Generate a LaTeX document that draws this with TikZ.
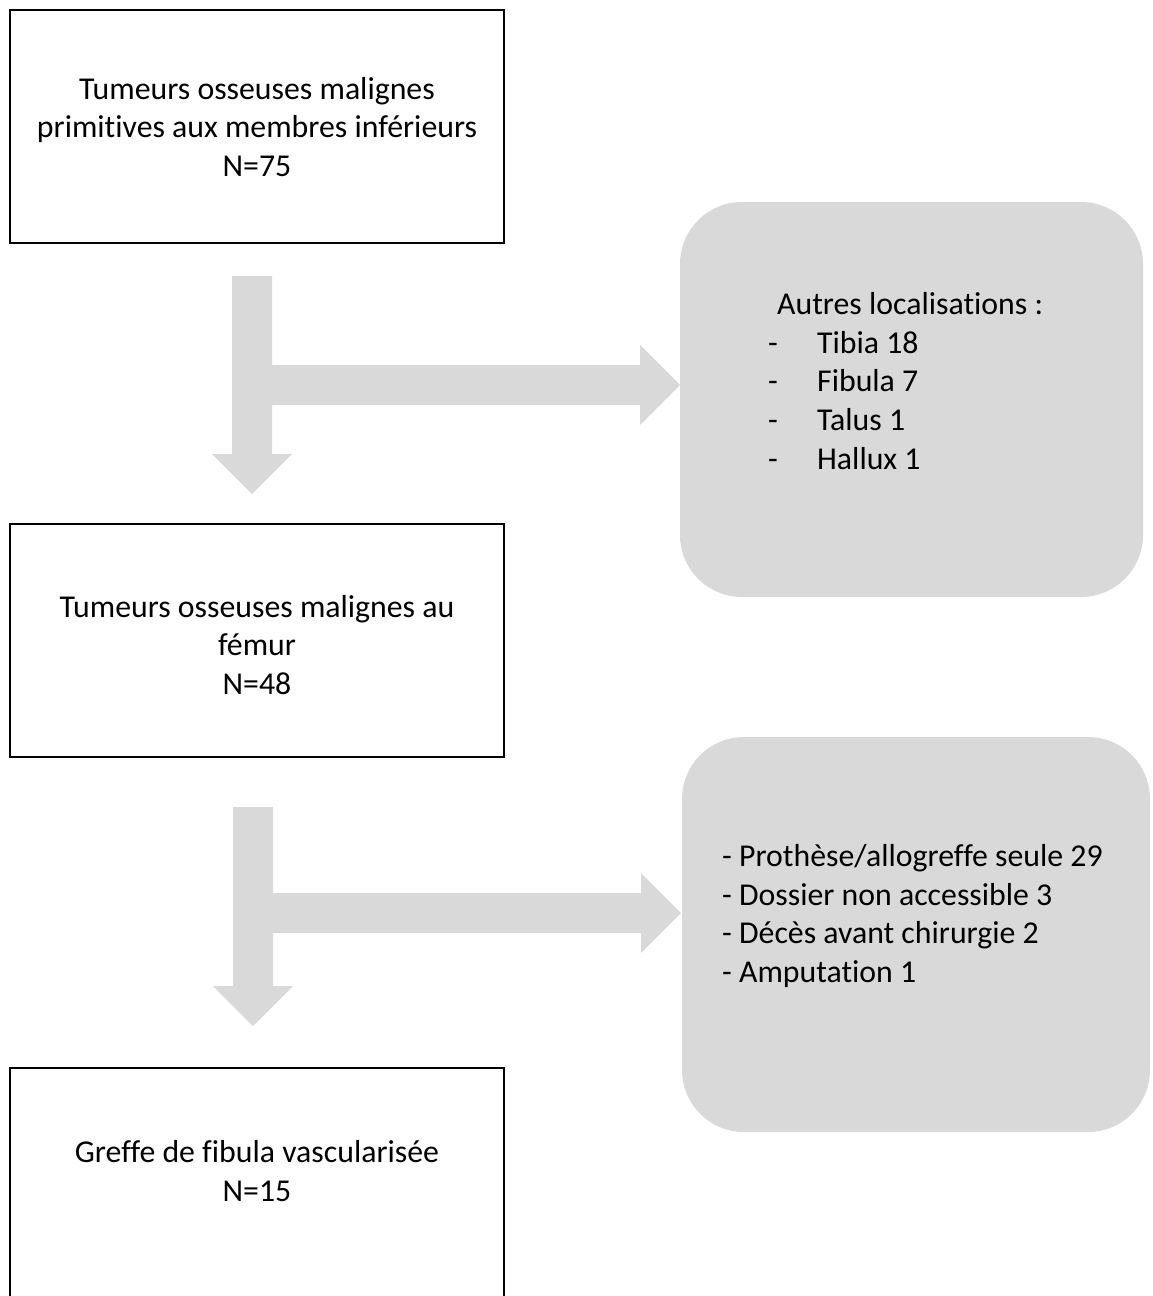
\documentclass[tikz,border=0pt]{standalone}
\usepackage{fontspec}
\setmainfont[Ligatures=NoCommon]{Carlito}
\definecolor{boxgray}{HTML}{D9D9D9}
\tikzset{
  whitebox/.style={draw=black, line width=1.6pt, fill=white, rectangle, inner sep=0pt},
  graybox/.style={fill=boxgray, draw=none, rectangle, rounded corners=62pt, inner sep=0pt},
  txt/.style={font=\fontsize{31.8}{38.8}\selectfont, align=center, inner sep=0pt, text=black},
  ltxt/.style={font=\fontsize{31.8}{38.8}\selectfont, align=left, inner sep=0pt, text=black},
  blockarrow/.style={fill=boxgray, draw=none}
}
\begin{document}
\begin{tikzpicture}[x=1pt,y=-1pt]
\useasboundingbox (0,0) rectangle (1153,1296);
\clip (0,0) rectangle (1153,1296);
% boxes
\node[whitebox, minimum width=494pt, minimum height=233pt] (b1) at (257,126.5) {};
\node[whitebox, minimum width=494pt, minimum height=233pt] (b2) at (257,640.5) {};
\node[whitebox, minimum width=494pt, minimum height=240pt] (b3) at (257,1188) {};
\node[graybox, minimum width=463pt, minimum height=395pt] (g1) at (911.5,399.5) {};
\node[graybox, minimum width=468pt, minimum height=395pt] (g2) at (916,934.5) {};
% texts
\node[txt] (t1) at (257,127) {Tumeurs osseuses malignes\\primitives aux membres inférieurs\\N=75};
\node[txt] (t2) at (257,645) {Tumeurs osseuses malignes au\\fémur\\N=48};
\node[txt] (t3) at (257,1171) {Greffe de fibula vascularisée\\N=15};
\node[ltxt, anchor=west] (l1) at (768,381) {\hspace*{9pt}Autres localisations :\\\makebox[49pt][l]{-}Tibia 18\\\makebox[49pt][l]{-}Fibula 7\\\makebox[49pt][l]{-}Talus 1\\\makebox[49pt][l]{-}Hallux 1};
\node[ltxt, anchor=west] (l2) at (722,916) {- Prothèse/allogreffe seule 29\\- Dossier non accessible 3\\- Décès avant chirurgie 2\\- Amputation 1};
% block arrows
\fill[blockarrow] (232,276) -- (272,276) -- (272,365) -- (640,365) -- (640,345) -- (680,385) -- (640,425) -- (640,405) -- (272,405) -- (272,454) -- (292,454) -- (252,494) -- (212,454) -- (232,454) -- cycle;
\fill[blockarrow] (233,807) -- (273,807) -- (273,893) -- (641,893) -- (641,873) -- (681,913) -- (641,953) -- (641,933) -- (273,933) -- (273,986) -- (293,986) -- (253,1026) -- (213,986) -- (233,986) -- cycle;
\end{tikzpicture}
\end{document}
